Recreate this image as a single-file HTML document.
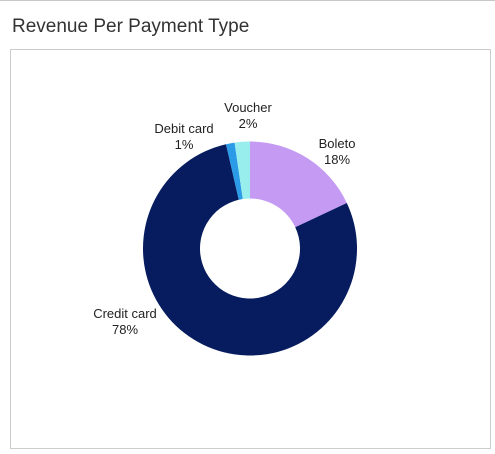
<!DOCTYPE html>
<html><head><meta charset="utf-8"><style>
html,body{margin:0;padding:0;background:#fff;}
body{width:495px;height:454px;position:relative;overflow:hidden;font-family:"Liberation Sans",sans-serif;}
</style></head><body>
<div style="position:absolute;left:0;top:0;width:495px;height:1px;background:#c8c8c8"></div>
<div style="position:absolute;left:12px;top:16px;font-size:19px;color:#333;">Revenue Per Payment Type</div>
<div style="position:absolute;left:10px;top:49px;width:479px;height:398px;border:1px solid #cccccc"></div>
<svg id="chart" width="495" height="454" style="position:absolute;left:0;top:0" font-family="Liberation Sans, sans-serif" font-size="13" fill="#222"></svg>
<script>
const categories=["Boleto","Credit card","Debit card","Voucher"];
const values=[18.0,78.4,1.3,2.3];
const labels=["18%","78%","1%","2%"];
const colors=["#c49af2","#061c5e","#2b9be8","#98eded"];
const labelPos=[[337,148],[125,318],[184,133],[248,112]];
const cx=250,cy=248.5,R=107,r=50;
const svg=document.getElementById('chart');
const NS="http://www.w3.org/2000/svg";
const total=values.reduce((a,b)=>a+b,0);
function pt(a,rad){return [cx+rad*Math.sin(a),cy-rad*Math.cos(a)];}
let acc=0;
values.forEach((v,i)=>{
  const a0=acc/total*2*Math.PI;acc+=v;const a1=acc/total*2*Math.PI;
  const large=(a1-a0)>Math.PI?1:0;
  const p0=pt(a0,R),p1=pt(a1,R),q1=pt(a1,r),q0=pt(a0,r);
  const p=document.createElementNS(NS,'path');
  p.setAttribute('d',`M${p0[0]},${p0[1]}A${R},${R} 0 ${large} 1 ${p1[0]},${p1[1]}L${q1[0]},${q1[1]}A${r},${r} 0 ${large} 0 ${q0[0]},${q0[1]}Z`);
  p.setAttribute('fill',colors[i]);
  
  
  svg.appendChild(p);
  const t=document.createElementNS(NS,'text');
  t.setAttribute('x',labelPos[i][0]);t.setAttribute('y',labelPos[i][1]);
  t.setAttribute('text-anchor','middle');
  
  
  const s1=document.createElementNS(NS,'tspan');s1.setAttribute('x',labelPos[i][0]);s1.textContent=categories[i];
  const s2=document.createElementNS(NS,'tspan');s2.setAttribute('x',labelPos[i][0]);s2.setAttribute('dy','16');s2.textContent=labels[i];
  t.appendChild(s1);t.appendChild(s2);svg.appendChild(t);
});
</script>
</body></html>
